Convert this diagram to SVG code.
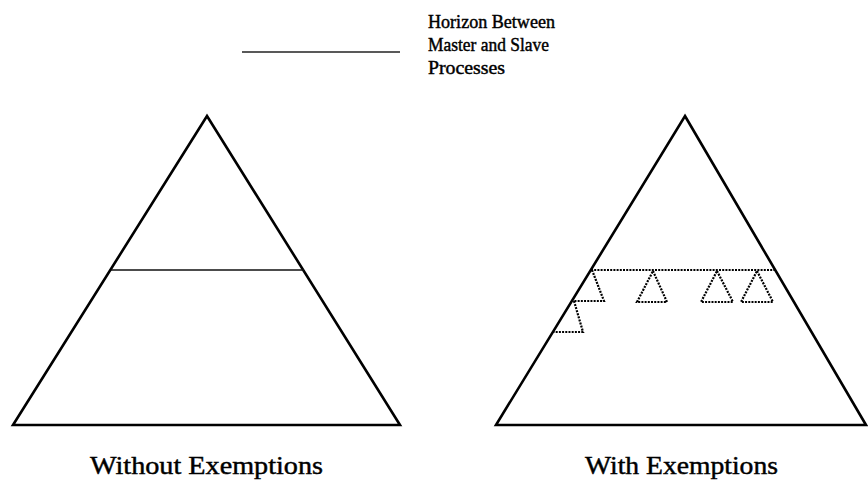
<svg xmlns="http://www.w3.org/2000/svg" width="868" height="494" viewBox="0 0 868 494">
<style>
.tri{fill:none;stroke:#000;stroke-width:2.6;stroke-linejoin:miter}
.hz{fill:none;stroke:#111;stroke-width:1.6}
.dot{fill:none;stroke:#000;stroke-width:2.2;stroke-dasharray:2 1.2}
.t{font-family:"Liberation Serif","Times New Roman",serif;fill:#000;stroke:#000;stroke-width:0.45}
.lg{font-size:19px}
.lb{font-size:26px}
</style>
<rect width="868" height="494" fill="#fff"/>
<g id="legend">
<line x1="242" y1="52" x2="400" y2="52" stroke="#222" stroke-width="1.4"/>
<text class="t lg" x="428" y="28" textLength="127" lengthAdjust="spacingAndGlyphs">Horizon Between</text>
<text class="t lg" x="428" y="51" textLength="121" lengthAdjust="spacingAndGlyphs">Master and Slave</text>
<text class="t lg" x="428" y="74" textLength="77" lengthAdjust="spacingAndGlyphs">Processes</text>
</g>
<g id="left-pyramid">
<polygon class="tri" points="207,116 400,425 13,425"/>
<line class="hz" x1="111" y1="270" x2="304" y2="270"/>
<text class="t lb" x="90" y="474" textLength="233" lengthAdjust="spacingAndGlyphs">Without Exemptions</text>
</g>
<g id="right-pyramid">
<polygon class="tri" points="685,116 866,425 496,425"/>
<line class="dot" x1="591" y1="270" x2="776" y2="270"/>
<polyline class="dot" points="592,270 604,301 573,301"/>
<polyline class="dot" points="574,301 583,332 553,332"/>
<polygon class="dot" points="653,271 667,302 637,302"/>
<polygon class="dot" points="717,271 733,302 701,302"/>
<polygon class="dot" points="757,271 773,302 741,302"/>
<text class="t lb" x="585" y="474" textLength="193" lengthAdjust="spacingAndGlyphs">With Exemptions</text>
</g>
</svg>
